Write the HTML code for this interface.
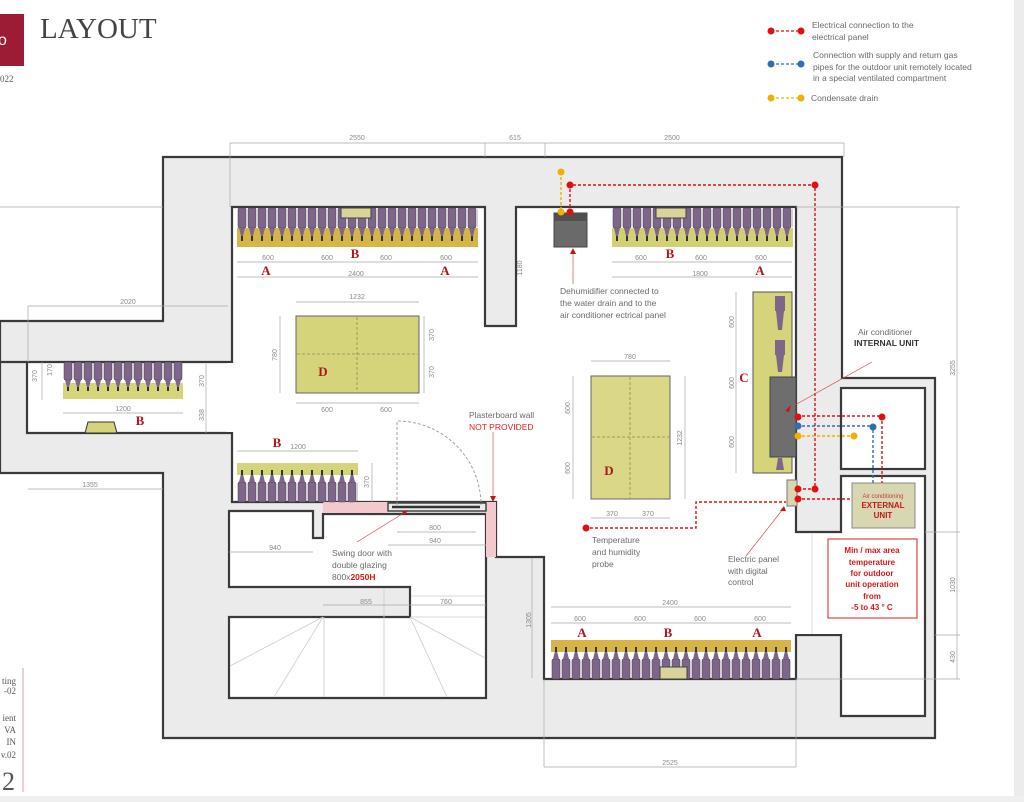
<!DOCTYPE html>
<html><head><meta charset="utf-8"><style>
html,body{margin:0;padding:0;background:#fff;}
svg{display:block;}
.d{font-family:"Liberation Sans",sans-serif;font-size:7px;fill:#8a8a8a;}
.t{font-family:"Liberation Sans",sans-serif;font-size:8.5px;fill:#6a6a6a;}
.L{font-family:"Liberation Serif",serif;font-size:13px;fill:#b0141e;font-weight:bold;}
.dl{stroke:#a8a8a8;stroke-width:0.7;fill:none;}
.w{stroke:#3a3a3a;stroke-width:2.2;}
</style></head><body>
<svg width="1024" height="802" viewBox="0 0 1024 802" xmlns="http://www.w3.org/2000/svg">
<defs>
<pattern id="bd" patternUnits="userSpaceOnUse" x="237" y="208" width="10" height="40">
<rect x="1" y="0" width="8" height="20" rx="1.5" fill="#7d6688" stroke="#4a3d52" stroke-width="0.5"/>
<polygon points="2,20 8,20 6,28 4,28" fill="#7d6688"/><rect x="4" y="28" width="2" height="5" fill="#333"/>
</pattern>
<pattern id="bd2" patternUnits="userSpaceOnUse" x="612" y="208" width="10" height="40">
<rect x="1" y="0" width="8" height="20" rx="1.5" fill="#7d6688" stroke="#4a3d52" stroke-width="0.5"/>
<polygon points="2,20 8,20 6,28 4,28" fill="#7d6688"/><rect x="4" y="28" width="2" height="5" fill="#333"/>
</pattern>
<pattern id="bd3" patternUnits="userSpaceOnUse" x="63" y="362" width="10" height="40">
<rect x="1" y="0" width="8" height="18" rx="1.5" fill="#7d6688" stroke="#4a3d52" stroke-width="0.5"/>
<polygon points="2,18 8,18 6,25 4,25" fill="#7d6688"/><rect x="4" y="25" width="2" height="4" fill="#333"/>
</pattern>
<pattern id="bu" patternUnits="userSpaceOnUse" x="237" y="463" width="10" height="40">
<rect x="1" y="19" width="8" height="20" rx="1.5" fill="#7d6688" stroke="#4a3d52" stroke-width="0.5"/>
<polygon points="2,19 8,19 6,11 4,11" fill="#7d6688"/><rect x="4" y="7" width="2" height="5" fill="#333"/>
</pattern>
<pattern id="bu2" patternUnits="userSpaceOnUse" x="551" y="640" width="10" height="40">
<rect x="1" y="19" width="8" height="20" rx="1.5" fill="#7d6688" stroke="#4a3d52" stroke-width="0.5"/>
<polygon points="2,19 8,19 6,11 4,11" fill="#7d6688"/><rect x="4" y="7" width="2" height="5" fill="#333"/>
</pattern>
</defs>

<!-- right edge band -->
<rect x="1014" y="0" width="10" height="802" fill="#ececec"/>
<rect x="0" y="796" width="1024" height="6" fill="#efefef"/>

<!-- outer building -->
<path class="w" fill="#ebebeb" d="M0,321 L163,321 L163,157 L842,157 L842,378 L935,378 L935,738 L163,738 L163,473 L0,473 Z"/>
<!-- white interior main -->
<path class="w" fill="#fff" d="M232,207 L485,207 L485,326 L516,326 L516,207 L796,207 L796,532 L841,532 L841,476 L925,476 L925,716 L841,716 L841,635 L796,635 L796,679 L544,679 L544,557 L496,557 L496,502 L232,502 L232,433 L27,433 L27,362 L232,362 Z"/>
<rect x="841" y="388" width="84" height="81" fill="#fff" class="w"/>
<!-- corridor + stairs -->
<path class="w" fill="#fff" d="M229,511 L313,511 L313,538 L323,538 L323,514 L486,514 L486,698 L229,698 L229,617 L410,617 L410,587 L229,587 Z"/>
<rect x="227" y="363" width="8" height="69" fill="#fff"/>
<rect x="796" y="534" width="46" height="100" fill="#fff"/>
<line x1="812" y1="534" x2="812" y2="634" stroke="#ccc" stroke-width="0.7"/>
<!-- stairs -->
<g stroke="#ccc" stroke-width="0.8">
<line x1="323" y1="617" x2="230" y2="666"/><line x1="323" y1="617" x2="274" y2="697"/>
<line x1="324" y1="617" x2="324" y2="697"/><line x1="384" y1="588" x2="384" y2="697"/>
<line x1="410" y1="617" x2="447" y2="697"/><line x1="410" y1="617" x2="485" y2="658"/>
<line x1="411" y1="617" x2="485" y2="617"/><line x1="411" y1="596" x2="485" y2="596"/>
</g>
<!-- pink plasterboard -->
<rect x="323" y="502" width="65" height="11" fill="#f4c9cd"/>
<rect x="486" y="502" width="10" height="55" fill="#f4c9cd"/>
<!-- door -->
<rect x="388" y="503" width="98" height="8" fill="none" stroke="#444" stroke-width="1.5"/>
<line x1="392" y1="507" x2="480" y2="507" stroke="#333" stroke-width="2.5"/>
<path d="M397,505 L397,421 A84,84 0 0 1 481,505" fill="none" stroke="#999" stroke-dasharray="3,2" stroke-width="0.9"/>

<!-- left wing grey extension line -->
<line x1="0" y1="362" x2="27" y2="362" class="w"/>

<!-- shelves -->
<rect x="237" y="228" width="241" height="19" fill="#d6b548"/>
<rect x="237" y="208" width="241" height="40" fill="url(#bd)"/>
<rect x="341" y="208" width="30" height="10" fill="#d9d59a" stroke="#444" stroke-width="1"/>
<rect x="612" y="228" width="181" height="19" fill="#d3cf74"/>
<rect x="612" y="208" width="181" height="40" fill="url(#bd2)"/>
<rect x="656" y="208" width="30" height="10" fill="#d9d59a" stroke="#444" stroke-width="1"/>
<rect x="63" y="383" width="120" height="16" fill="#d6d47a"/>
<rect x="63" y="362" width="120" height="38" fill="url(#bd3)"/>
<path d="M85,433 L88,422 L114,422 L117,433 Z" fill="#d6d47a" stroke="#333" stroke-width="1"/>
<rect x="237" y="463" width="121" height="12" fill="#d6d47a"/>
<rect x="237" y="463" width="121" height="40" fill="url(#bu)"/>
<rect x="551" y="640" width="240" height="12" fill="#d6b548"/>
<rect x="551" y="640" width="240" height="40" fill="url(#bu2)"/>
<rect x="660" y="667" width="27" height="12" fill="#d9d59a" stroke="#444" stroke-width="1"/>
<!-- C shelf -->
<rect x="753" y="292" width="39" height="181" fill="#d6d47a" stroke="#555" stroke-width="1"/>
<g fill="#7d6688"><rect x="775" y="296" width="10" height="15"/><polygon points="776,311 784,311 782,330 778,330"/>
<rect x="775" y="340" width="10" height="15"/><polygon points="776,355 784,355 782,372 778,372"/>
<polygon points="776,470 784,470 782,458 778,458"/></g>
<rect x="770" y="377" width="26" height="80" fill="#6e6e6e" stroke="#444" stroke-width="1"/>
<!-- tables -->
<rect x="296" y="316" width="123" height="77" fill="#d6d47a" stroke="#666" stroke-width="1"/>
<g stroke="#8a8a5a" stroke-dasharray="3,2" stroke-width="0.8"><line x1="357" y1="317" x2="357" y2="392"/><line x1="297" y1="354" x2="418" y2="354"/>
<line x1="630" y1="377" x2="630" y2="498"/><line x1="592" y1="437" x2="669" y2="437"/></g>
<rect x="591" y="376" width="79" height="123" fill="none" stroke="#666" stroke-width="1"/>
<rect x="591" y="376" width="79" height="123" fill="#d6d47a" fill-opacity="0.9" stroke="#666"/>
<g stroke="#8a8a5a" stroke-dasharray="3,2" stroke-width="0.8"><line x1="630" y1="377" x2="630" y2="498"/><line x1="592" y1="437" x2="669" y2="437"/></g>
<!-- dehumidifier -->
<rect x="554" y="213" width="33" height="34" fill="#6a6a6a" stroke="#444"/>
<rect x="554" y="213" width="33" height="8" fill="#505050"/>
<!-- electric panel -->
<rect x="787" y="480" width="10" height="26" fill="#d8d5b0" stroke="#777"/>
<!-- external unit -->
<rect x="852" y="483" width="63" height="45" fill="#d9d6b2" stroke="#888"/>
<text x="883" y="498" font-family="Liberation Sans" font-size="6" fill="#c84040" text-anchor="middle">Air conditioning</text>
<text x="883" y="508" font-family="Liberation Sans" font-size="8" font-weight="bold" fill="#c01818" text-anchor="middle">EXTERNAL</text>
<text x="883" y="518" font-family="Liberation Sans" font-size="8" font-weight="bold" fill="#c01818" text-anchor="middle">UNIT</text>
<!-- min/max box -->
<rect x="828" y="539" width="89" height="79" fill="#fff" stroke="#d42020" stroke-width="1"/>
<g font-family="Liberation Sans" font-size="8" font-weight="bold" fill="#d21a1a" text-anchor="middle">
<text x="872" y="553">Min / max area</text><text x="872" y="565">temperature</text><text x="872" y="576">for outdoor</text>
<text x="872" y="587">unit operation</text><text x="872" y="599">from</text><text x="872" y="610">-5 to 43 ° C</text></g>

<!-- connections -->
<g fill="none" stroke-width="1.4" stroke-dasharray="3,2">
<polyline stroke="#e01010" points="570,212 570,185 815,185 815,489 797,489"/>
<polyline stroke="#f0b000" points="561,172 561,212"/>
<polyline stroke="#e01010" points="797,416 882,416 882,483"/>
<polyline stroke="#2f6fb0" points="797,426 873,426 873,483"/>
<polyline stroke="#f0b000" points="797,436 853,436"/>
<polyline stroke="#e01010" points="797,499 852,499"/>
<polyline stroke="#e01010" points="585,528 696,528 696,502 786,502"/>
</g>
<g fill="#e01010"><circle cx="570" cy="185" r="3.5"/><circle cx="815" cy="185" r="3.5"/><circle cx="570" cy="212" r="3.5"/><circle cx="815" cy="489" r="3.5"/><circle cx="798" cy="489" r="3.5"/><circle cx="798" cy="417" r="3.5"/><circle cx="882" cy="417" r="3.5"/><circle cx="798" cy="499" r="3.5"/><circle cx="586" cy="528" r="3.5"/></g>
<g fill="#f0b000"><circle cx="561" cy="172" r="3.5"/><circle cx="561" cy="212" r="3.5"/><circle cx="798" cy="436" r="3.5"/><circle cx="854" cy="436" r="3.5"/></g>
<g fill="#2f6fb0"><circle cx="798" cy="426" r="3.5"/><circle cx="873" cy="427" r="3.5"/></g>

<!-- leaders -->
<g stroke="#c85050" stroke-width="0.7"><line x1="573" y1="250" x2="573" y2="284"/><line x1="493" y1="432" x2="493" y2="500"/>
<line x1="872" y1="362" x2="786" y2="410"/><line x1="783" y1="509" x2="746" y2="556"/><line x1="357" y1="542" x2="407" y2="511"/></g>
<g fill="#c01818"><polygon points="570,254 576,254 573,248"/><polygon points="490,496 496,496 493,502"/><polygon points="785,411 791,405 789,412"/><polygon points="780,511 786,511 784,506"/><polygon points="402,512 408,510 405,515"/></g>

<!-- dimension lines -->
<g class="dl">
<line x1="230" y1="143" x2="844" y2="143"/><line x1="230" y1="143" x2="230" y2="207"/><line x1="485" y1="143" x2="485" y2="157"/><line x1="545" y1="143" x2="545" y2="157"/><line x1="844" y1="143" x2="844" y2="157"/>
<line x1="237" y1="262" x2="478" y2="262"/><line x1="237" y1="277" x2="478" y2="277"/>
<line x1="612" y1="262" x2="792" y2="262"/><line x1="612" y1="277" x2="792" y2="277"/>
<line x1="296" y1="302" x2="419" y2="302"/><line x1="296" y1="403" x2="419" y2="403"/><line x1="280" y1="316" x2="280" y2="393"/><line x1="424" y1="316" x2="424" y2="393"/>
<line x1="28" y1="306" x2="228" y2="306"/><line x1="28" y1="306" x2="28" y2="362"/>
<line x1="63" y1="413" x2="183" y2="413"/><line x1="42" y1="362" x2="42" y2="400"/><line x1="206" y1="364" x2="206" y2="433"/>
<line x1="28" y1="489" x2="163" y2="489"/>
<line x1="237" y1="451" x2="358" y2="451"/><line x1="372" y1="463" x2="372" y2="502"/>
<line x1="397" y1="532" x2="476" y2="532"/><line x1="388" y1="545" x2="486" y2="545"/><line x1="229" y1="552" x2="313" y2="552"/>
<line x1="323" y1="605" x2="410" y2="605"/><line x1="410" y1="605" x2="486" y2="605"/><line x1="532" y1="558" x2="532" y2="678"/>
<line x1="591" y1="361" x2="670" y2="361"/><line x1="591" y1="518" x2="670" y2="518"/><line x1="573" y1="376" x2="573" y2="499"/><line x1="685" y1="376" x2="685" y2="499"/>
<line x1="736" y1="292" x2="736" y2="473"/>
<line x1="551" y1="607" x2="791" y2="607"/><line x1="551" y1="623" x2="791" y2="623"/>
<line x1="544" y1="767" x2="796" y2="767"/><line x1="544" y1="679" x2="544" y2="767"/><line x1="796" y1="679" x2="796" y2="767"/>
<line x1="957" y1="207" x2="957" y2="679"/><line x1="796" y1="207" x2="960" y2="207"/><line x1="925" y1="532" x2="960" y2="532"/><line x1="935" y1="635" x2="960" y2="635"/><line x1="796" y1="679" x2="960" y2="679"/>
<line x1="0" y1="207" x2="163" y2="207"/>
</g>
<g class="d" text-anchor="middle">
<text x="357" y="140">2550</text><text x="515" y="140">615</text><text x="672" y="140">2500</text>
<text x="268" y="260">600</text><text x="327" y="260">600</text><text x="386" y="260">600</text><text x="446" y="260">600</text><text x="356" y="276">2400</text>
<text x="641" y="260">600</text><text x="701" y="260">600</text><text x="761" y="260">600</text><text x="700" y="276">1800</text>
<text x="357" y="299">1232</text><text x="327" y="412">600</text><text x="386" y="412">600</text>
<text x="128" y="304">2020</text><text x="123" y="411">1200</text><text x="90" y="487">1355</text><text x="298" y="449">1200</text>
<text x="435" y="530">800</text><text x="435" y="543">940</text><text x="275" y="550">940</text>
<text x="366" y="604">855</text><text x="446" y="604">760</text>
<text x="630" y="359">780</text><text x="612" y="516">370</text><text x="648" y="516">370</text>
<text x="670" y="605">2400</text><text x="580" y="621">600</text><text x="640" y="621">600</text><text x="700" y="621">600</text><text x="760" y="621">600</text>
<text x="670" y="765">2525</text>
<text transform="translate(277,355) rotate(-90)">780</text><text transform="translate(434,335) rotate(-90)">370</text><text transform="translate(434,372) rotate(-90)">370</text>
<text transform="translate(522,268) rotate(-90)">1180</text><text transform="translate(37,376) rotate(-90)">370</text><text transform="translate(52,370) rotate(-90)">170</text>
<text transform="translate(204,381) rotate(-90)">370</text><text transform="translate(204,415) rotate(-90)">338</text><text transform="translate(369,482) rotate(-90)">370</text>
<text transform="translate(531,620) rotate(-90)">1305</text><text transform="translate(570,408) rotate(-90)">600</text><text transform="translate(570,468) rotate(-90)">600</text>
<text transform="translate(682,438) rotate(-90)">1232</text><text transform="translate(734,322) rotate(-90)">600</text><text transform="translate(734,383) rotate(-90)">600</text><text transform="translate(734,442) rotate(-90)">600</text>
<text transform="translate(955,368) rotate(-90)">3255</text><text transform="translate(955,585) rotate(-90)">1030</text><text transform="translate(955,657) rotate(-90)">430</text>
</g>
<!-- letters -->
<g class="L" text-anchor="middle">
<text x="266" y="275">A</text><text x="355" y="258">B</text><text x="445" y="275">A</text>
<text x="670" y="258">B</text><text x="760" y="275">A</text>
<text x="323" y="376">D</text><text x="140" y="425">B</text><text x="277" y="447">B</text>
<text x="609" y="475">D</text><text x="744" y="382">C</text>
<text x="582" y="637">A</text><text x="668" y="637">B</text><text x="757" y="637">A</text>
</g>
<!-- notes -->
<g class="t">
<text x="560" y="294">Dehumidifier connected to</text><text x="560" y="306">the water drain and to the</text><text x="560" y="318">air conditioner ectrical panel</text>
<text x="858" y="335">Air conditioner</text>
<text x="469" y="418">Plasterboard wall</text>
<text x="332" y="556">Swing door  with</text><text x="332" y="568">double glazing</text><text x="332" y="580">800x<tspan fill="#d21a1a" font-weight="bold">2050H</tspan></text>
<text x="592" y="543">Temperature</text><text x="592" y="555">and humidity</text><text x="592" y="567">probe</text>
<text x="728" y="562">Electric panel</text><text x="728" y="574">with digital</text><text x="728" y="585">control</text>
</g>
<text x="854" y="346" font-family="Liberation Sans" font-size="8.5" font-weight="bold" fill="#333">INTERNAL UNIT</text>
<text x="469" y="430" font-family="Liberation Sans" font-size="8.5" fill="#e02020">NOT PROVIDED</text>

<!-- legend -->
<g stroke-width="1.3" stroke-dasharray="3,2"><line x1="771" y1="31" x2="801" y2="31" stroke="#e01010"/><line x1="771" y1="64" x2="801" y2="64" stroke="#2f6fb0"/><line x1="771" y1="98" x2="801" y2="98" stroke="#f0b000"/></g>
<g><circle cx="771" cy="31" r="3.5" fill="#e01010"/><circle cx="801" cy="31" r="3.5" fill="#e01010"/><circle cx="771" cy="64" r="3.5" fill="#2f6fb0"/><circle cx="801" cy="64" r="3.5" fill="#2f6fb0"/><circle cx="771" cy="98" r="3.5" fill="#f0b000"/><circle cx="801" cy="98" r="3.5" fill="#f0b000"/></g>
<g class="t" font-size="8.5"><text x="812" y="28">Electrical connection to the</text><text x="812" y="40">electrical panel</text>
<text x="813" y="58">Connection with supply and return gas</text><text x="813" y="70">pipes for the outdoor unit remotely located</text><text x="813" y="81">in a special ventilated compartment</text>
<text x="811" y="101">Condensate drain</text></g>

<!-- header -->
<rect x="0" y="14" width="24" height="52" fill="#9c1b35"/>
<text x="-2" y="45" font-family="Liberation Sans" font-size="16" fill="#fff">o</text>
<text x="40" y="38" font-family="Liberation Serif" font-size="29" fill="#444">LAYOUT</text>
<text x="0" y="82" font-family="Liberation Serif" font-size="9" fill="#555">022</text>
<!-- bottom left -->
<line x1="23" y1="668" x2="23" y2="792" stroke="#d0a0a8" stroke-width="1"/>
<g font-family="Liberation Serif" font-size="9" fill="#555" text-anchor="end">
<text x="16" y="684">ting</text><text x="16" y="694">-02</text><text x="16" y="721">ient</text><text x="16" y="733">VA</text><text x="16" y="745">IN</text><text x="16" y="758">v.02</text></g>
<text x="15" y="790" font-family="Liberation Serif" font-size="26" fill="#555" text-anchor="end">2</text>
</svg>
</body></html>
